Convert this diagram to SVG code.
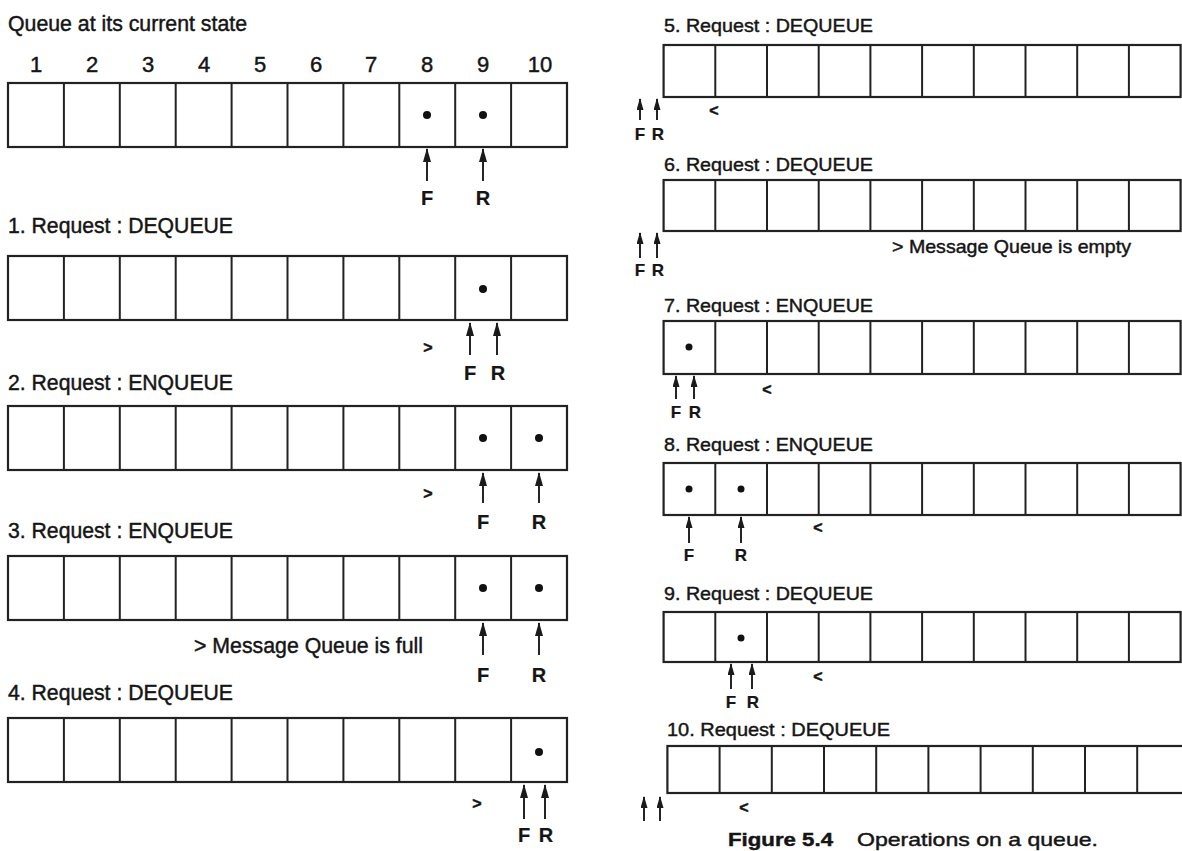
<svg xmlns="http://www.w3.org/2000/svg" width="1182" height="851" viewBox="0 0 1182 851">
<defs>
<style>
.bg{fill:#ffffff}
.box{fill:#ffffff;stroke:#222;stroke-width:2.2}
.div{fill:none;stroke:#222;stroke-width:2}
.dot{fill:#111}
.t{font-family:"Liberation Sans",Arial,sans-serif;fill:#151515;stroke:#151515;stroke-width:0.45}
.tl{font-size:22px}
.tr{font-size:19px}
.num{font-size:22px;text-anchor:middle}
.fl{font-size:20px;text-anchor:middle;font-weight:bold;stroke-width:0.2}
.fr{font-size:17px;text-anchor:middle;font-weight:bold;stroke-width:0.2}
.ch{font-size:16px;text-anchor:middle;font-weight:bold}
.ar{stroke:#1a1a1a;stroke-width:1.9;fill:none}
.arL{marker-end:url(#headL)}
.arR{marker-end:url(#headR)}
</style>
<marker id="headL" viewBox="0 0 14 8" refX="13" refY="4" markerWidth="14" markerHeight="8" markerUnits="userSpaceOnUse" orient="auto">
<path d="M0,0 L14,4 L0,8 z" fill="#1a1a1a"/>
</marker>
<marker id="headR" viewBox="0 0 12 7" refX="11" refY="3.5" markerWidth="12" markerHeight="7" markerUnits="userSpaceOnUse" orient="auto">
<path d="M0,0 L12,3.5 L0,7 z" fill="#1a1a1a"/>
</marker>
</defs>
<rect class="bg" x="0" y="0" width="1182" height="851"/>

<g id="panel-current">
<text class="t tl" x="8" y="31" textLength="239" lengthAdjust="spacingAndGlyphs">Queue at its current state</text>
<text class="t num" x="36" y="72">1</text>
<text class="t num" x="92" y="72">2</text>
<text class="t num" x="148" y="72">3</text>
<text class="t num" x="204" y="72">4</text>
<text class="t num" x="260" y="72">5</text>
<text class="t num" x="316" y="72">6</text>
<text class="t num" x="371" y="72">7</text>
<text class="t num" x="427" y="72">8</text>
<text class="t num" x="483" y="72">9</text>
<text class="t num" x="540" y="72">10</text>
<rect class="box" x="8" y="83" width="559" height="64"/>
<path class="div" d="M63.9,83V147M119.8,83V147M175.7,83V147M231.6,83V147M287.5,83V147M343.4,83V147M399.3,83V147M455.2,83V147M511.1,83V147"/>
<circle class="dot" cx="427" cy="115" r="4"/>
<circle class="dot" cx="483" cy="115" r="4"/>
<text class="t fl" x="427" y="205">F</text>
<text class="t fl" x="483" y="205">R</text>
</g>

<g id="panel-1">
<text class="t tl" x="8" y="233" textLength="225" lengthAdjust="spacingAndGlyphs">1. Request : DEQUEUE</text>
<rect class="box" x="8" y="256" width="559" height="64"/>
<path class="div" d="M63.9,256V320M119.8,256V320M175.7,256V320M231.6,256V320M287.5,256V320M343.4,256V320M399.3,256V320M455.2,256V320M511.1,256V320"/>
<circle class="dot" cx="483" cy="289" r="4"/>
<text class="t ch" x="428" y="353">&gt;</text>
<text class="t fl" x="470" y="380">F</text>
<text class="t fl" x="498" y="380">R</text>
</g>

<g id="panel-2">
<text class="t tl" x="8" y="390" textLength="225" lengthAdjust="spacingAndGlyphs">2. Request : ENQUEUE</text>
<rect class="box" x="8" y="406" width="559" height="64"/>
<path class="div" d="M63.9,406V470M119.8,406V470M175.7,406V470M231.6,406V470M287.5,406V470M343.4,406V470M399.3,406V470M455.2,406V470M511.1,406V470"/>
<circle class="dot" cx="483" cy="438" r="4"/>
<circle class="dot" cx="539" cy="438" r="4"/>
<text class="t ch" x="428" y="499">&gt;</text>
<text class="t fl" x="483" y="529">F</text>
<text class="t fl" x="539" y="529">R</text>
</g>

<g id="panel-3">
<text class="t tl" x="8" y="538" textLength="225" lengthAdjust="spacingAndGlyphs">3. Request : ENQUEUE</text>
<rect class="box" x="8" y="556" width="559" height="64"/>
<path class="div" d="M63.9,556V620M119.8,556V620M175.7,556V620M231.6,556V620M287.5,556V620M343.4,556V620M399.3,556V620M455.2,556V620M511.1,556V620"/>
<circle class="dot" cx="483" cy="588" r="4"/>
<circle class="dot" cx="539" cy="588" r="4"/>
<text class="t tl" x="194" y="653" textLength="229" lengthAdjust="spacingAndGlyphs">&gt; Message Queue is full</text>
<text class="t fl" x="483" y="682">F</text>
<text class="t fl" x="539" y="682">R</text>
</g>

<g id="panel-4">
<text class="t tl" x="8" y="700" textLength="225" lengthAdjust="spacingAndGlyphs">4. Request : DEQUEUE</text>
<rect class="box" x="8" y="718" width="559" height="64"/>
<path class="div" d="M63.9,718V782M119.8,718V782M175.7,718V782M231.6,718V782M287.5,718V782M343.4,718V782M399.3,718V782M455.2,718V782M511.1,718V782"/>
<circle class="dot" cx="539" cy="752" r="4"/>
<text class="t ch" x="477" y="809">&gt;</text>
<text class="t fl" x="524" y="842">F</text>
<text class="t fl" x="546" y="842">R</text>
</g>

<g id="panel-5">
<text class="t tr" x="664" y="32" textLength="209" lengthAdjust="spacingAndGlyphs">5. Request : DEQUEUE</text>
<rect class="box" x="663.6" y="45" width="517" height="52"/>
<path class="div" d="M715.3,45V97M767,45V97M818.7,45V97M870.4,45V97M922.1,45V97M973.8,45V97M1025.5,45V97M1077.2,45V97M1128.9,45V97"/>
<text class="t ch" x="714" y="116">&lt;</text>
<text class="t fr" x="640" y="140">F</text>
<text class="t fr" x="658" y="140">R</text>
</g>

<g id="panel-6">
<text class="t tr" x="664" y="171" textLength="209" lengthAdjust="spacingAndGlyphs">6. Request : DEQUEUE</text>
<rect class="box" x="663.6" y="180" width="517" height="51"/>
<path class="div" d="M715.3,180V231M767,180V231M818.7,180V231M870.4,180V231M922.1,180V231M973.8,180V231M1025.5,180V231M1077.2,180V231M1128.9,180V231"/>
<text class="t tr" x="892" y="253" textLength="239" lengthAdjust="spacingAndGlyphs">&gt; Message Queue is empty</text>
<text class="t fr" x="640" y="276">F</text>
<text class="t fr" x="658" y="276">R</text>
</g>

<g id="panel-7">
<text class="t tr" x="664" y="312" textLength="209" lengthAdjust="spacingAndGlyphs">7. Request : ENQUEUE</text>
<rect class="box" x="663.6" y="321" width="517" height="53"/>
<path class="div" d="M715.3,321V374M767,321V374M818.7,321V374M870.4,321V374M922.1,321V374M973.8,321V374M1025.5,321V374M1077.2,321V374M1128.9,321V374"/>
<circle class="dot" cx="689" cy="347" r="3.5"/>
<text class="t ch" x="767" y="395">&lt;</text>
<text class="t fr" x="676" y="418">F</text>
<text class="t fr" x="695" y="418">R</text>
</g>

<g id="panel-8">
<text class="t tr" x="664" y="451" textLength="209" lengthAdjust="spacingAndGlyphs">8. Request : ENQUEUE</text>
<rect class="box" x="663.6" y="463" width="517" height="52"/>
<path class="div" d="M715.3,463V515M767,463V515M818.7,463V515M870.4,463V515M922.1,463V515M973.8,463V515M1025.5,463V515M1077.2,463V515M1128.9,463V515"/>
<circle class="dot" cx="689" cy="489" r="3.5"/>
<circle class="dot" cx="741" cy="489" r="3.5"/>
<text class="t ch" x="818" y="533">&lt;</text>
<text class="t fr" x="689" y="561">F</text>
<text class="t fr" x="741" y="561">R</text>
</g>

<g id="panel-9">
<text class="t tr" x="664" y="600" textLength="209" lengthAdjust="spacingAndGlyphs">9. Request : DEQUEUE</text>
<rect class="box" x="663.6" y="612" width="517" height="50"/>
<path class="div" d="M715.3,612V662M767,612V662M818.7,612V662M870.4,612V662M922.1,612V662M973.8,612V662M1025.5,612V662M1077.2,612V662M1128.9,612V662"/>
<circle class="dot" cx="741" cy="638" r="3.5"/>
<text class="t ch" x="818" y="682">&lt;</text>
<text class="t fr" x="731" y="708">F</text>
<text class="t fr" x="753" y="708">R</text>
</g>

<g id="panel-10">
<text class="t tr" x="667" y="736" textLength="223" lengthAdjust="spacingAndGlyphs">10. Request : DEQUEUE</text>
<rect class="box" x="667.4" y="746" width="522" height="47"/>
<path class="div" d="M719.6,746V793M771.8,746V793M824,746V793M876.2,746V793M928.4,746V793M980.6,746V793M1032.8,746V793M1085,746V793M1137.2,746V793"/>
<text class="t ch" x="744" y="813">&lt;</text>
</g>

<g id="caption">
<text class="t" x="728" y="846" font-size="19" font-weight="bold" textLength="105" lengthAdjust="spacingAndGlyphs">Figure 5.4</text>
<text class="t" x="857" y="846" font-size="19" textLength="241" lengthAdjust="spacingAndGlyphs">Operations on a queue.</text>
</g>

<g id="connectors">
<line class="ar arL" x1="427" y1="181" x2="427" y2="149"/>
<line class="ar arL" x1="483" y1="181" x2="483" y2="149"/>
<line class="ar arL" x1="470" y1="355" x2="470" y2="323"/>
<line class="ar arL" x1="497" y1="355" x2="497" y2="323"/>
<line class="ar arL" x1="483" y1="503" x2="483" y2="473"/>
<line class="ar arL" x1="539" y1="503" x2="539" y2="473"/>
<line class="ar arL" x1="483" y1="655" x2="483" y2="623"/>
<line class="ar arL" x1="539" y1="655" x2="539" y2="623"/>
<line class="ar arL" x1="524" y1="819" x2="524" y2="785"/>
<line class="ar arL" x1="545" y1="819" x2="545" y2="785"/>
<line class="ar arR" x1="640" y1="120" x2="640" y2="99"/>
<line class="ar arR" x1="657" y1="120" x2="657" y2="99"/>
<line class="ar arR" x1="640" y1="258" x2="640" y2="233"/>
<line class="ar arR" x1="657" y1="258" x2="657" y2="233"/>
<line class="ar arR" x1="676" y1="399" x2="676" y2="376"/>
<line class="ar arR" x1="694" y1="399" x2="694" y2="376"/>
<line class="ar arR" x1="689" y1="543" x2="689" y2="517"/>
<line class="ar arR" x1="741" y1="543" x2="741" y2="517"/>
<line class="ar arR" x1="731" y1="689" x2="731" y2="664"/>
<line class="ar arR" x1="752" y1="689" x2="752" y2="664"/>
<line class="ar arR" x1="644" y1="821" x2="644" y2="797"/>
<line class="ar arR" x1="660" y1="821" x2="660" y2="797"/>
</g>
</svg>
